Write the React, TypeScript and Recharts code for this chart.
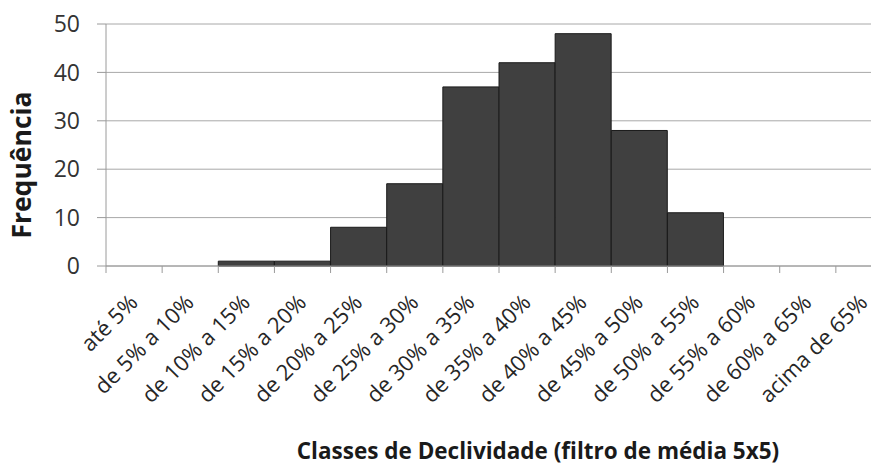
import React from 'react';
import { BarChart, Bar, XAxis, YAxis, CartesianGrid, Label } from 'recharts';

// Slope classes and their frequencies
const classes = [
  'até 5%',
  'de 5% a 10%',
  'de 10% a 15%',
  'de 15% a 20%',
  'de 20% a 25%',
  'de 25% a 30%',
  'de 30% a 35%',
  'de 35% a 40%',
  'de 40% a 45%',
  'de 45% a 50%',
  'de 50% a 55%',
  'de 55% a 60%',
  'de 60% a 65%',
  'acima de 65%',
];
const frequencies = [0, 0, 1, 1, 8, 17, 37, 42, 48, 28, 11, 0, 0, 0];
const yTicks = [0, 10, 20, 30, 40, 50];

const data = classes.map((classe, i) => ({ classe, freq: frequencies[i] }));

const FONT = '"Open Sans", "Liberation Sans", sans-serif';

// x tick: boundary tick mark on the left of each band + rotated label
const ClassTick = (props: any) => {
  const { x, y, payload, index } = props;
  const half = payload && payload.offset ? payload.offset : 28;
  const ax = x + 5;
  const ay = y + 38;
  return (
    <g>
      <line x1={x - half} y1={y} x2={x - half} y2={y + 7} stroke="#9a9a9a" />
      {index === classes.length - 1 && (
        <line x1={x + half} y1={y} x2={x + half} y2={y + 7} stroke="#9a9a9a" />
      )}
      <text
        x={ax}
        y={ay}
        textAnchor="end"
        transform={`rotate(-45, ${ax}, ${ay})`}
        fontFamily={FONT}
        fontSize={22}
        fill="#262626"
      >
        {payload.value}
      </text>
    </g>
  );
};

const App = () => {
  return (
    <div style={{ position: 'absolute', left: 0, top: 0, width: 871, height: 474, overflow: 'hidden', background: '#fff' }}>
      <BarChart
        width={900}
        height={474}
        data={data}
        margin={{ top: 24, right: 8, bottom: 0, left: 0 }}
        barCategoryGap={0}
      >
        <CartesianGrid vertical={false} stroke="#a8a8a8" />
        <XAxis
          dataKey="classe"
          height={208}
          interval={0}
          axisLine={{ stroke: '#9a9a9a' }}
          tickLine={false}
          tickSize={0}
          tickMargin={0}
          tick={<ClassTick />}
        >
          <Label
            content={() => (
              <text
                x={538}
                y={459}
                textAnchor="middle"
                fontFamily={FONT}
                fontSize={22.5}
                fontWeight="bold"
                fill="#1a1a1a"
              >
                Classes de Declividade (filtro de média 5x5)
              </text>
            )}
          />
        </XAxis>
        <YAxis
          width={106}
          domain={[0, 50]}
          ticks={yTicks}
          interval={0}
          axisLine={{ stroke: '#9a9a9a' }}
          tickLine={{ stroke: '#9a9a9a' }}
          tickSize={9}
          tickMargin={17}
          tick={{ fill: '#333', fontSize: 23, fontFamily: FONT }}
        >
          <Label
            content={() => (
              <text
                x={0}
                y={0}
                transform="translate(31, 165) rotate(-90)"
                textAnchor="middle"
                fontFamily={FONT}
                fontSize={26.5}
                fontWeight="bold"
                fill="#1a1a1a"
              >
                Frequência
              </text>
            )}
          />
        </YAxis>
        <Bar
          dataKey="freq"
          fill="#404040"
          stroke="#1a1a1a"
          strokeWidth={1}
          isAnimationActive={false}
        />
      </BarChart>
    </div>
  );
};

export default App;
